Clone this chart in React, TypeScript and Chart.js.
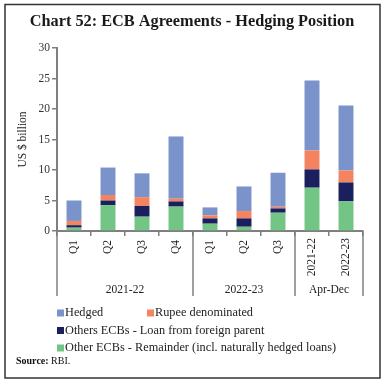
import React, { useEffect, useRef } from 'react';
import { Chart, registerables } from 'chart.js';
Chart.register(...registerables);

const titleText = 'Chart 52: ECB Agreements - Hedging Position';
const yTitle = 'US $ billion';
const categoryLabels = ['Q1', 'Q2', 'Q3', 'Q4', 'Q1', 'Q2', 'Q3', '2021-22', '2022-23'];
const groupLabels = ['2021-22', '2022-23', 'Apr-Dec'];
const groupSizes = [4, 3, 2];

const remainder = [0.55, 4.25, 2.35, 4.0, 1.2, 0.7, 3.0, 7.1, 4.86];
const loanParent = [0.4, 0.75, 1.75, 0.85, 0.87, 1.37, 0.7, 3.0, 3.1];
const rupee = [0.7, 0.9, 1.45, 0.45, 0.49, 1.2, 0.28, 3.1, 1.96];
const hedged = [3.35, 4.5, 3.9, 10.2, 1.31, 4.03, 5.57, 11.46, 10.64];

const seriesNames = [
  'Other ECBs - Remainder (incl. naturally hedged loans)',
  'Others ECBs - Loan from foreign parent',
  'Rupee denominated',
  'Hedged',
];
const seriesColors = ['#72C585', '#1B1F5E', '#F4845F', '#7B93CB'];

const FONT = "'Liberation Serif', 'DejaVu Serif', serif";
const AXIS = '#7f7f7f';

const overlay = {
  id: 'overlay',
  afterDraw(chart: any) {
    const ctx = chart.ctx as CanvasRenderingContext2D;
    const area = chart.chartArea;
    const xs = chart.scales.x;
    ctx.save();
    // border
    ctx.strokeStyle = '#333';
    ctx.lineWidth = 1.5;
    ctx.strokeRect(5, 4.5, 375, 373.5);
    // title
    ctx.fillStyle = '#1a1a1a';
    ctx.font = `bold 16.3px ${FONT}`;
    ctx.textAlign = 'center';
    ctx.textBaseline = 'middle';
    ctx.fillText(titleText, 192, 22);
    // y title
    ctx.save();
    ctx.translate(23, (area.top + area.bottom) / 2);
    ctx.rotate(-Math.PI / 2);
    ctx.font = `11.5px ${FONT}`;
    ctx.fillStyle = '#222';
    ctx.fillText(yTitle, 0, 0);
    ctx.restore();
    // category labels
    ctx.font = `11.5px ${FONT}`;
    ctx.fillStyle = '#222';
    categoryLabels.forEach((lab, i) => {
      const x = xs.getPixelForValue(i);
      ctx.save();
      ctx.translate(x, lab.length > 3 ? 238 : 240);
      ctx.rotate(-Math.PI / 2);
      ctx.textAlign = 'right';
      ctx.textBaseline = 'middle';
      ctx.fillText(lab, 0, 0);
      ctx.restore();
    });
    // separators and group labels
    ctx.strokeStyle = AXIS;
    ctx.lineWidth = 1.5;
    const bounds: number[] = [area.left];
    let idx = 0;
    groupSizes.forEach((n, g) => {
      idx += n;
      const bx = g === groupSizes.length - 1 ? area.right : (xs.getPixelForValue(idx - 1) + xs.getPixelForValue(idx)) / 2;
      bounds.push(bx);
    });
    bounds.forEach((bx) => {
      ctx.beginPath();
      ctx.moveTo(bx, area.bottom);
      ctx.lineTo(bx, 296);
      ctx.stroke();
    });
    ctx.font = `11.5px ${FONT}`;
    ctx.textAlign = 'center';
    ctx.textBaseline = 'middle';
    groupLabels.forEach((g, i) => {
      ctx.fillText(g, (bounds[i] + bounds[i + 1]) / 2, 290);
    });
    // legend
    const items = [
      { k: 3, x: 57, y: 313 },
      { k: 2, x: 147, y: 313 },
      { k: 1, x: 57, y: 330.5 },
      { k: 0, x: 57, y: 348 },
    ];
    ctx.font = `12.3px ${FONT}`;
    ctx.textAlign = 'left';
    items.forEach((it) => {
      ctx.fillStyle = seriesColors[it.k];
      ctx.fillRect(it.x, it.y - 3.5, 7, 7);
      ctx.fillStyle = '#222';
      ctx.fillText(seriesNames[it.k], it.x + 8, it.y);
    });
    // source
    ctx.font = `bold 10px ${FONT}`;
    ctx.fillStyle = '#111';
    ctx.fillText('Source:', 16, 361);
    const w = ctx.measureText('Source: ').width;
    ctx.font = `10px ${FONT}`;
    ctx.fillText('RBI.', 16 + w, 361);
    ctx.restore();
  },
};

export default function App() {
  const ref = useRef<HTMLCanvasElement>(null);
  useEffect(() => {
    const data = [remainder, loanParent, rupee, hedged];
    const chart = new Chart(ref.current!, {
      type: 'bar',
      data: {
        labels: categoryLabels,
        datasets: data.map((d, i) => ({
          label: seriesNames[i],
          data: d,
          backgroundColor: seriesColors[i],
          borderWidth: 0,
          barPercentage: 0.44,
          categoryPercentage: 1,
        })),
      },
      options: {
        responsive: false,
        animation: false,
        devicePixelRatio: 1,
        layout: { padding: { left: 5, top: 48, right: 21, bottom: 0 } },
        plugins: {
          legend: { display: false },
          tooltip: { enabled: false },
          title: { display: false },
        },
        scales: {
          x: {
            stacked: true,
            ticks: { display: false },
            grid: { display: true, drawOnChartArea: false, drawTicks: true, tickLength: 5, color: AXIS, lineWidth: 1.5, offset: true },
            border: { display: true, color: AXIS, width: 2 },
            afterFit: (s: any) => { s.height = 153; },
          },
          y: {
            stacked: true,
            min: 0,
            max: 30,
            ticks: { stepSize: 5, font: { family: FONT, size: 11.5 }, color: '#333', padding: 2 },
            grid: { display: true, drawOnChartArea: false, drawTicks: true, tickLength: 5, color: AXIS, lineWidth: 1.5 },
            border: { display: true, color: AXIS, width: 2 },
            afterFit: (s: any) => { s.width = 52; },
          },
        },
      },
      plugins: [overlay],
    });
    return () => chart.destroy();
  }, []);
  return (
    <div style={{ position: 'fixed', left: 0, top: 0, width: 384, height: 384, background: '#fff' }}>
      <canvas ref={ref} width={384} height={384} style={{ display: 'block' }} />
    </div>
  );
}
